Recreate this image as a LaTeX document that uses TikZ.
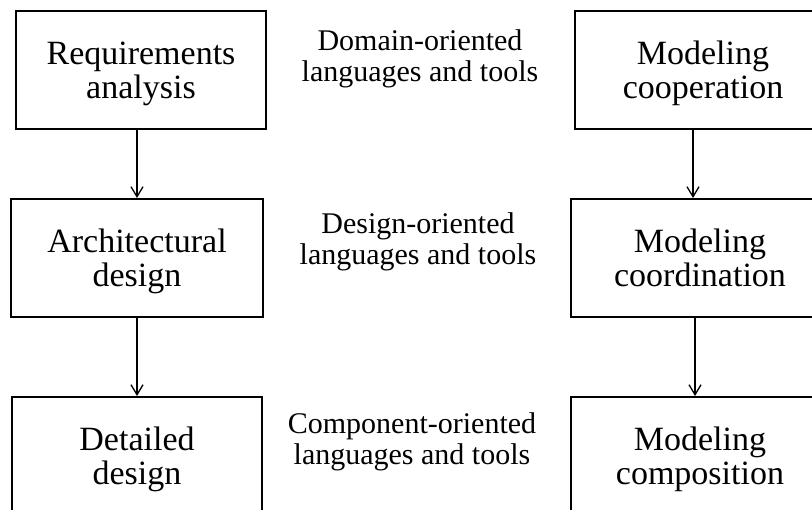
\documentclass[tikz,border=0pt]{standalone}
\usepackage{fontspec}
\setmainfont{Liberation Serif}
\usetikzlibrary{arrows.meta,positioning}
\tikzset{stage/.style={draw,line width=2pt,minimum height=118pt,align=center,inner sep=0pt,text depth=0pt,font=\fontsize{34}{34}\selectfont}}

\begin{document}
\begin{tikzpicture}[x=1pt,y=-1pt,
    level/.style={align=center,font=\fontsize{30}{31}\selectfont},
    flow/.style={line width=1.3pt,-{Straight Barb[length=10pt,width=12pt]}}]
                \useasboundingbox (0,0) rectangle (812,510);
                \clip (0,0) rectangle (812,510);
                % process stages
                \node [stage,minimum width=250pt] (req) at (141,70) {Requirements\\analysis};
                \node [stage,minimum width=252pt] (arch) at (137,258) {Architectural\\design};
                \node [stage,minimum width=250pt] (det) at (137,456) {Detailed\\design};
                % kinds of languages and tools
                \node [level] (dom) at (420,59) {Domain-oriented\\languages and tools};
                \node [level] (des) at (418,242) {Design-oriented\\languages and tools};
                \node [level] (com) at (412,442) {Component-oriented\\languages and tools};
                % modeling concerns
                \node [stage,minimum width=256pt] (coop) at (703,70) {Modeling\\cooperation};
                \node [stage,minimum width=258pt] (coord) at (700,258) {Modeling\\coordination};
                \node [stage,minimum width=258pt] (comp) at (700,456) {Modeling\\composition};
                \draw [flow] (req.south -| arch.north) -- (arch.north);
                \draw [flow] (arch.south) -- (det.north);
                \draw [flow] ([xshift=-7pt]coord.north |- coop.south) -- ([xshift=-7pt]coord.north);
                \draw [flow] ([xshift=-5pt]coord.south) -- ([xshift=-5pt]comp.north);
            \end{tikzpicture}
\end{document}
